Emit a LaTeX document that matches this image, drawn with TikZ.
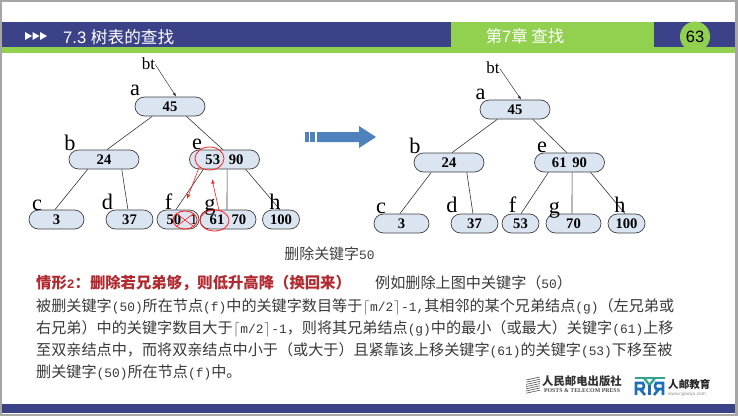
\documentclass[tikz,border=0pt]{standalone}
\usepackage{fontspec}
\usepackage{tikz}
\usetikzlibrary{arrows.meta,positioning,shapes.geometric}
\setmainfont{Liberation Serif}
\setsansfont{Liberation Sans}
\newfontfamily\cjk{Noto Sans CJK SC}
\newfontfamily\latfont{Liberation Mono}
\newcommand{\lat}[1]{{\latfont\fontsize{11}{18.7}\selectfont #1}}
\newcommand{\mhalf}{\makebox[6.6pt]{$\lceil$}\lat{m/2}\makebox[6.6pt]{$\rceil$}}
\definecolor{Band}{HTML}{3B4287}
\definecolor{Leaf}{HTML}{92D050}
\definecolor{Pill}{HTML}{DBE5F1}
\definecolor{Edge}{HTML}{404040}
\definecolor{Mark}{HTML}{FF2020}
\definecolor{Flow}{HTML}{4F81BD}
\definecolor{Case}{HTML}{B02A30}
\definecolor{Body}{HTML}{3A3A3A}
\definecolor{Logo}{HTML}{1F6FB5}
\definecolor{LogoTop}{HTML}{2FA58E}

\begin{document}
\begin{tikzpicture}[x=0.03cm,y=-0.03cm,
      pill/.style={rounded corners=0.285cm,draw=Edge,fill=Pill,line width=0.6pt,
        minimum height=0.57cm,inner sep=0pt,font=\fontsize{12.5}{14}\selectfont\bfseries},
      letter/.style={inner sep=0pt,font=\fontsize{19}{20}\selectfont},
      pointer/.style={inner sep=0pt,font=\fontsize{14.5}{16}\selectfont},
      link/.style={draw=black!80,line width=0.5pt},
      ptr/.style={-{Latex[length=1.2mm]},line width=0.4pt,black!80},
      ring/.style={ellipse,draw=Mark,line width=0.7pt,inner sep=0pt},
      move/.style={-{Latex[length=1.4mm]},draw=Mark,line width=0.5pt},
      para/.style={inner sep=0pt,anchor=west,align=left,text=Body,
        font=\cjk\fontsize{12.9}{18.7}\selectfont}
    ]
      \useasboundingbox (0,0) rectangle (738,416);
      % frame and header
      \fill[black!35] (0,0) rectangle (738,416);
      \fill[white] (2,2) rectangle (735,414);
      \fill[Band] (2,22) rectangle (735,47);
      \fill[Leaf] (2,47) rectangle (735,53);
      \fill[Leaf] (451,22) rectangle (654,53);
      \fill[Band] (2,404) rectangle (735,413);
      \foreach \tx in {25,32.5,40}
        \fill[white] (\tx,32) -- (\tx+7,36) -- (\tx,40) -- cycle;
      \node[inner sep=0pt,anchor=west,text=white,font=\sffamily\fontsize{14.2}{16}\selectfont] (title)
        at (63,37) {7.3 {\cjk 树表的查找}};
      \node[inner sep=0pt,text=white,font=\sffamily\fontsize{14}{16}\selectfont] (chapter)
        at (525,36) {{\cjk 第}7{\cjk 章 查找}};
      \node[circle,fill=Leaf,minimum size=0.9cm,inner sep=0pt,font=\sffamily\fontsize{14}{16}\selectfont] (page)
        at (695,36.5) {63};

      % left tree
      \node[pill,minimum width=2.1cm] (la) at (170,106.5) {45};
      \node[pill,minimum width=2.1cm] (lb) at (104,159.5) {24};
      \node[pill,minimum width=2.1cm] (le) at (224.5,159.5) {53\hspace{0.6em}90};
      \node[pill,minimum width=1.65cm] (lc) at (56.5,219.5) {3};
      \node[pill,minimum width=1.41cm] (ld) at (129.5,219.5) {37};
      \node[pill,minimum width=1.26cm] (lf) at (178,219.5) {\hspace{6.8pt}50\hspace{0.6em}{\normalfont 1}};
      \node[pill,minimum width=1.68cm] (lg) at (228,219.5) {61\hspace{0.5em}70};
      \node[pill,minimum width=1.11cm] (lh) at (281,219.5) {100};
      \draw[link] (la.209) -- (lb.73);
      \draw[link] (la.329) -- (le.99);
      \draw[link] (lb.211) -- (lc.99);
      \draw[link] (lb.331) -- (ld.99);
      \draw[link] (le.205) -- (lf.102);
      \draw[link] (le.285) -- (lg.96);
      \draw[link] (le.335) -- (lh.96);
      \node[pointer] (lbt) at (148.5,64) {bt};
      \draw[ptr] (lbt.-5) -- (la.58);
      \node[letter] at (135,90) {a};
      \node[letter] at (70,143) {b};
      \node[letter] at (197,144) {e};
      \node[letter] at (37,205) {c};
      \node[letter] at (107.5,202) {d};
      \node[letter] at (168.5,202) {f};
      \node[letter] at (210,207) {g};
      \node[letter] at (275,202) {h};

      % marks on the left tree
      \node[ring,minimum width=0.87cm,minimum height=0.69cm] (keep) at (209.5,158.5) {};
      \node[ring,minimum width=0.72cm,minimum height=0.54cm] (gone) at (185,220) {};
      \node[ring,minimum width=0.87cm,minimum height=0.63cm] (lift) at (214.5,220.5) {};
      \draw[Mark,line width=0.5pt] (gone.north west) -- (gone.south east);
      \draw[Mark,line width=0.5pt] (gone.south west) -- (gone.north east);
      \coordinate (downtip) at (187,199);
      \coordinate (uptip) at (212,179);
      \draw[move] (keep.220) -- (downtip);
      \draw[move] (lift.67) -- (uptip);

      % big arrow
      \fill[Flow] (305,132) rectangle (309,142);
      \fill[Flow] (310,132) rectangle (315,142);
      \fill[Flow] (317,132) -- (359,132) -- (359,126) -- (376,137) -- (359,148) -- (359,142) -- (317,142) -- cycle;

      % right tree
      \node[pill,minimum width=2.1cm] (ra) at (515,109.5) {45};
      \node[pill,minimum width=2.1cm] (rb) at (449,162.5) {24};
      \node[pill,minimum width=2.1cm] (re) at (569.5,162.5) {61\hspace{0.4em}90};
      \node[pill,minimum width=1.65cm] (rc) at (401.5,223.5) {3};
      \node[pill,minimum width=1.41cm] (rd) at (474.5,223.5) {37};
      \node[pill,minimum width=1.11cm] (rf) at (520.5,223.5) {53};
      \node[pill,minimum width=1.65cm] (rg) at (573.5,223.5) {70};
      \node[pill,minimum width=1.11cm] (rh) at (626.5,223.5) {100};
      \draw[link] (ra.209) -- (rb.73);
      \draw[link] (ra.331) -- (re.105);
      \draw[link] (rb.209) -- (rc.99);
      \draw[link] (rb.331) -- (rd.99);
      \draw[link] (re.205) -- (rf.87);
      \draw[link] (re.285) -- (rg.99);
      \draw[link] (re.335) -- (rh.99);
      \node[pointer] (rbt) at (493,68) {bt};
      \draw[ptr] (rbt.-5) -- (ra.58);
      \node[letter] at (480.5,94) {a};
      \node[letter] at (415,146) {b};
      \node[letter] at (542,147) {e};
      \node[letter] at (381,208) {c};
      \node[letter] at (452,205) {d};
      \node[letter] at (512.5,205) {f};
      \node[letter] at (554.5,210) {g};
      \node[letter] at (620,205) {h};

      % caption and text
      \node[inner sep=0pt,text=Edge,font=\cjk\fontsize{12.75}{15}\selectfont] (caption)
        at (329.5,254) {删除关键字\lat{50}};
      \node[para,text=Case,font=\cjk\fontsize{13.1}{15}\selectfont\bfseries] (case)
        at (36,283) {情形\lat{\bfseries 2}：删除若兄弟够，则低升高降（换回来）};
      \node[para] (example) at (375,283) {例如删除上图中关键字（\lat{50}）};
      \node[para,anchor=north west] (rule) at (36,298.5)
        {被删关键字\lat{(50)}所在节点\lat{(f)}中的关键字数目等于\mhalf\lat{-1,}其相邻的某个兄弟结点\lat{(g)}（左兄弟或\\
         右兄弟）中的关键字数目大于\mhalf\lat{-1}，则将其兄弟结点\lat{(g)}中的最小（或最大）关键字\lat{(61)}上移\\
         至双亲结点中，而将双亲结点中小于（或大于）且紧靠该上移关键字\lat{(61)}的关键字\lat{(53)}下移至被\\
         删关键字\lat{(50)}所在节点\lat{(f)}中。};

      % publisher marks
      \foreach \sy in {0,2.2,...,13.2}
        \draw[black!70,line width=0.5pt] (526,380+\sy) -- (540,377+\sy);
      \node[inner sep=0pt,text=black!80,font=\cjk\fontsize{9.7}{11}\selectfont\bfseries] (press)
        at (582,381) {人民邮电出版社};
      \node[inner sep=0pt,text=black!70,font=\fontsize{5}{6}\selectfont\bfseries] (pressen)
        at (582,391) {POSTS \& TELECOM PRESS};
      \draw[LogoTop,line width=2pt] (634.5,378) -- (664.5,378);
      \draw[LogoTop,line width=2pt] (644,378) -- (649.5,385) -- (655,378);
      \draw[Logo,line width=1.8pt] (649.5,385) -- (649.5,395);
      \draw[Logo,line width=2.2pt] (636,395) -- (636,383) -- (643,383) -- (644,386) -- (643,389) -- (637,389);
      \draw[Logo,line width=2.2pt] (640,389) -- (645,395);
      \draw[Logo,line width=2.2pt] (663,395) -- (663,383) -- (656,383) -- (655,386) -- (656,389) -- (662,389);
      \draw[Logo,line width=2.2pt] (659,389) -- (654,395);
      \node[inner sep=0pt,anchor=west,text=black!85,font=\cjk\fontsize{9}{10}\selectfont\bfseries] (edu)
        at (668,384) {人邮教育};
      \node[inner sep=0pt,anchor=west,text=black!45,font=\sffamily\fontsize{4}{5}\selectfont] (eduweb)
        at (668,394) {www.ryjiaoyu.com};
    \end{tikzpicture}
\end{document}
